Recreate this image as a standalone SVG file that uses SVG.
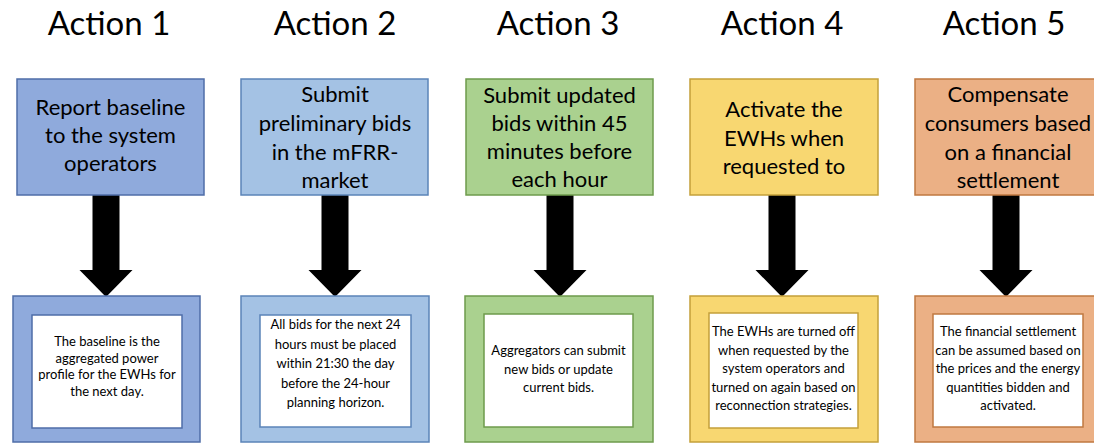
<svg xmlns="http://www.w3.org/2000/svg" width="1094" height="446" viewBox="0 0 1094 446">
  <style>
    text { font-family: Lato, "Open Sans", "Liberation Sans", sans-serif; fill: #000; text-anchor: middle; }
    .title { font-size: 33px; }
    .head { font-size: 22px; }
    .note { font-size: 13px; }
    .inner { fill: #fff; stroke-width: 1.5; }
    .box { stroke-width: 1.5; }
    .arrow { fill: #000; }
    .c1 { fill: #8FAADC; stroke: #4F6DA8; }
    .c2 { fill: #A4C2E4; stroke: #5B84B8; }
    .c3 { fill: #AAD18F; stroke: #6E9B4C; }
    .c4 { fill: #F8D771; stroke: #C4A03A; }
    .c5 { fill: #EBB085; stroke: #C07840; }
    .s1 { stroke: #4F6DA8; }
    .s2 { stroke: #5B84B8; }
    .s3 { stroke: #6E9B4C; }
    .s4 { stroke: #C4A03A; }
    .s5 { stroke: #C07840; }
  </style>

  <!-- column headings -->
  <g id="titles">
    <text class="title" x="109" y="35">Action 1</text>
    <text class="title" x="335" y="35">Action 2</text>
    <text class="title" x="558" y="35">Action 3</text>
    <text class="title" x="782" y="35">Action 4</text>
    <text class="title" x="1004" y="35">Action 5</text>
  </g>

  <!-- block arrows from each action to its detail box -->
  <g id="connectors">
    <polygon class="arrow" points="92.5,195 119.5,195 119.5,270 132.5,270 106,297 79.5,270 92.5,270"/>
    <polygon class="arrow" points="321.5,195 348.5,195 348.5,270 361.5,270 335,297 308.5,270 321.5,270"/>
    <polygon class="arrow" points="546.5,195 573.5,195 573.5,270 586.5,270 560,297 533.5,270 546.5,270"/>
    <polygon class="arrow" points="768.5,195 795.5,195 795.5,270 808.5,270 782,297 755.5,270 768.5,270"/>
    <polygon class="arrow" points="992.5,195 1019.5,195 1019.5,270 1032.5,270 1006,297 979.5,270 992.5,270"/>
  </g>

  <!-- Action 1 -->
  <g id="action1">
    <rect class="box c1" x="17" y="79" width="187" height="116"/>
    <text class="head" x="110.5" y="115">Report baseline</text>
    <text class="head" x="110.5" y="143">to the system</text>
    <text class="head" x="110.5" y="171">operators</text>
  </g>
  <g id="detail1">
    <rect class="box c1" x="13" y="296" width="187" height="146"/>
    <rect class="inner s1" x="32" y="315" width="150" height="113"/>
    <text class="note" x="107" y="346">The baseline is the</text>
    <text class="note" x="107" y="362.5">aggregated power</text>
    <text class="note" x="107" y="379">profile for the EWHs for</text>
    <text class="note" x="107" y="395.5">the next day.</text>
  </g>

  <!-- Action 2 -->
  <g id="action2">
    <rect class="box c2" x="241" y="79" width="187" height="116"/>
    <text class="head" x="335" y="102">Submit</text>
    <text class="head" x="335" y="131">preliminary bids</text>
    <text class="head" x="335" y="160">in the mFRR-</text>
    <text class="head" x="335" y="188">market</text>
  </g>
  <g id="detail2">
    <rect class="box c2" x="241" y="296" width="188" height="146"/>
    <rect class="inner s2" x="260" y="315" width="151" height="112"/>
    <text class="note" x="335.5" y="329">All bids for the next 24</text>
    <text class="note" x="335.5" y="348.5">hours must be placed</text>
    <text class="note" x="335.5" y="368">within 21:30 the day</text>
    <text class="note" x="335.5" y="387.5">before the 24-hour</text>
    <text class="note" x="335.5" y="407">planning horizon.</text>
  </g>

  <!-- Action 3 -->
  <g id="action3">
    <rect class="box c3" x="466" y="79" width="187" height="116"/>
    <text class="head" x="559.5" y="103">Submit updated</text>
    <text class="head" x="559.5" y="131">bids within 45</text>
    <text class="head" x="559.5" y="159">minutes before</text>
    <text class="head" x="559.5" y="187">each hour</text>
  </g>
  <g id="detail3">
    <rect class="box c3" x="465" y="296" width="188" height="146"/>
    <rect class="inner s3" x="484" y="314" width="149" height="113"/>
    <text class="note" x="558.5" y="355">Aggregators can submit</text>
    <text class="note" x="558.5" y="373.5">new bids or update</text>
    <text class="note" x="558.5" y="392">current bids.</text>
  </g>

  <!-- Action 4 -->
  <g id="action4">
    <rect class="box c4" x="690" y="79" width="188" height="116"/>
    <text class="head" x="784" y="117">Activate the</text>
    <text class="head" x="784" y="145.5">EWHs when</text>
    <text class="head" x="784" y="174">requested to</text>
  </g>
  <g id="detail4">
    <rect class="box c4" x="690" y="296" width="188" height="146"/>
    <rect class="inner s4" x="709" y="313" width="149" height="115"/>
    <text class="note" x="783.5" y="336">The EWHs are turned off</text>
    <text class="note" x="783.5" y="354.5">when requested by the</text>
    <text class="note" x="783.5" y="373">system operators and</text>
    <text class="note" x="783.5" y="391.5">turned on again based on</text>
    <text class="note" x="783.5" y="410">reconnection strategies.</text>
  </g>

  <!-- Action 5 -->
  <g id="action5">
    <rect class="box c5" x="915" y="79" width="188" height="116"/>
    <text class="head" x="1008" y="102">Compensate</text>
    <text class="head" x="1008" y="131">consumers based</text>
    <text class="head" x="1008" y="160">on a financial</text>
    <text class="head" x="1008" y="188">settlement</text>
  </g>
  <g id="detail5">
    <rect class="box c5" x="915" y="296" width="188" height="146"/>
    <rect class="inner s5" x="933" y="314" width="150" height="113"/>
    <text class="note" x="1008" y="336">The financial settlement</text>
    <text class="note" x="1008" y="354.5">can be assumed based on</text>
    <text class="note" x="1008" y="373">the prices and the energy</text>
    <text class="note" x="1008" y="391.5">quantities bidden and</text>
    <text class="note" x="1008" y="410">activated.</text>
  </g>
</svg>
